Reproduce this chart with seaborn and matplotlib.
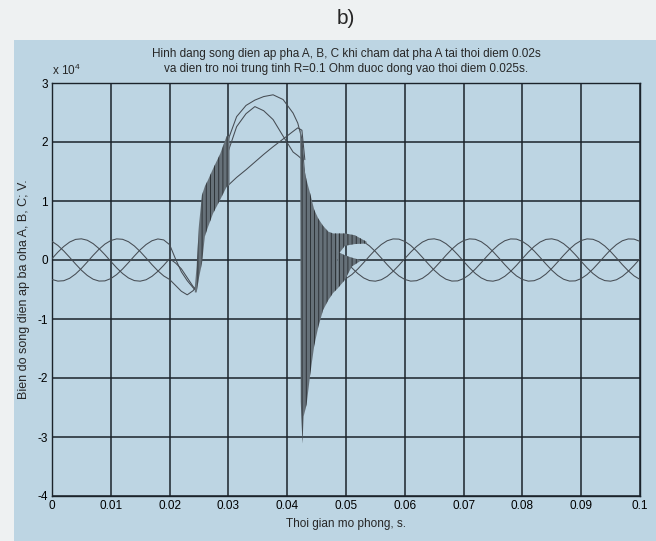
import matplotlib
matplotlib.use("Agg")
import matplotlib.pyplot as plt
import seaborn as sns
from matplotlib.patches import Rectangle

# -----------------------------------------------------------
# DATA  (voltage, units of 10^4 V)
# -----------------------------------------------------------
# before the fault + first few ms after it
t_pre = [0.000, 0.001, 0.002, 0.003, 0.004, 0.005, 0.006, 0.007, 0.008, 0.009,
         0.010, 0.011, 0.012, 0.013, 0.014, 0.015, 0.016, 0.017, 0.018, 0.019,
         0.020, 0.021, 0.022, 0.023, 0.024, 0.0245]
a_pre = [0.023, 0.133, 0.229, 0.304, 0.349, 0.359, 0.335, 0.277, 0.193, 0.090,
         -0.023, -0.133, -0.229, -0.304, -0.349, -0.359, -0.335, -0.277, -0.193, -0.090,
         0.023, -0.05, -0.15, -0.30, -0.45, -0.50]
b_pre = [-0.330, -0.358, -0.351, -0.310, -0.238, -0.143, -0.034, 0.079, 0.183, 0.270,
         0.330, 0.358, 0.351, 0.310, 0.238, 0.143, 0.034, -0.079, -0.183, -0.270,
         -0.330, -0.43, -0.53, -0.59, -0.52, -0.45]
c_pre = [0.315, 0.247, 0.153, 0.045, -0.067, -0.173, -0.262, -0.326, -0.357, -0.354,
         -0.315, -0.247, -0.153, -0.045, 0.067, 0.173, 0.262, 0.326, 0.357, 0.340,
         0.260, 0.02, -0.20, -0.35, -0.47, -0.52]

# overvoltage part between the two oscillation bursts
t_mid = [0.0300, 0.0314, 0.0330, 0.0345, 0.0360, 0.0376, 0.0393, 0.0410, 0.0418, 0.0425, 0.0430]
a_mid = [1.27, 1.40, 1.53, 1.66, 1.79, 1.92, 2.05, 2.18, 2.24, 2.20, 1.70]
b_mid = [2.05, 2.43, 2.62, 2.71, 2.77, 2.80, 2.72, 2.49, 2.32, 2.05, 1.40]
c_mid = [1.85, 2.26, 2.48, 2.60, 2.53, 2.38, 2.10, 1.83, 1.77, 1.71, 1.20]

# back to steady state
t_post = [0.050, 0.051, 0.052, 0.053, 0.054, 0.055, 0.056, 0.057, 0.058, 0.059,
          0.060, 0.061, 0.062, 0.063, 0.064, 0.065, 0.066, 0.067, 0.068, 0.069,
          0.070, 0.071, 0.072, 0.073, 0.074, 0.075, 0.076, 0.077, 0.078, 0.079,
          0.080, 0.081, 0.082, 0.083, 0.084, 0.085, 0.086, 0.087, 0.088, 0.089,
          0.090, 0.091, 0.092, 0.093, 0.094, 0.095, 0.096, 0.097, 0.098, 0.099,
          0.100]
a_post = [-0.023, -0.133, -0.229, -0.304, -0.349, -0.359, -0.335, -0.277, -0.193, -0.090,
          0.023, 0.133, 0.229, 0.304, 0.349, 0.359, 0.335, 0.277, 0.193, 0.090,
          -0.023, -0.133, -0.229, -0.304, -0.349, -0.359, -0.335, -0.277, -0.193, -0.090,
          0.023, 0.133, 0.229, 0.304, 0.349, 0.359, 0.335, 0.277, 0.193, 0.090,
          -0.023, -0.133, -0.229, -0.304, -0.349, -0.359, -0.335, -0.277, -0.193, -0.090,
          0.023]
b_post = [0.330, 0.358, 0.351, 0.310, 0.238, 0.143, 0.034, -0.079, -0.183, -0.270,
          -0.330, -0.358, -0.351, -0.310, -0.238, -0.143, -0.034, 0.079, 0.183, 0.270,
          0.330, 0.358, 0.351, 0.310, 0.238, 0.143, 0.034, -0.079, -0.183, -0.270,
          -0.330, -0.358, -0.351, -0.310, -0.238, -0.143, -0.034, 0.079, 0.183, 0.270,
          0.330, 0.358, 0.351, 0.310, 0.238, 0.143, 0.034, -0.079, -0.183, -0.270,
          -0.330]
c_post = [-0.315, -0.247, -0.153, -0.045, 0.067, 0.173, 0.262, 0.326, 0.357, 0.354,
          0.315, 0.247, 0.153, 0.045, -0.067, -0.173, -0.262, -0.326, -0.357, -0.354,
          -0.315, -0.247, -0.153, -0.045, 0.067, 0.173, 0.262, 0.326, 0.357, 0.354,
          0.315, 0.247, 0.153, 0.045, -0.067, -0.173, -0.262, -0.326, -0.357, -0.354,
          -0.315, -0.247, -0.153, -0.045, 0.067, 0.173, 0.262, 0.326, 0.357, 0.354,
          0.315]

# high-frequency oscillation bursts (envelopes)
rise_t = [0.0243, 0.0246, 0.0250, 0.0255, 0.0260, 0.0265, 0.0274, 0.0286, 0.0297, 0.0302]
rise_hi = [-0.45, -0.10, 0.60, 1.10, 1.25, 1.35, 1.55, 1.80, 2.10, 2.10]
rise_lo = [-0.55, -0.55, -0.30, -0.06, 0.40, 0.55, 0.79, 1.02, 1.24, 1.27]

fall_t = [0.0422, 0.0423, 0.0426, 0.0428, 0.0433, 0.0439, 0.0446, 0.0453, 0.0461, 0.0470, 0.0478, 0.0486]
fall_hi = [2.20, 2.20, 1.90, 1.60, 1.35, 1.13, 0.85, 0.70, 0.58, 0.48, 0.45, 0.45]
fall_lo = [2.10, -2.40, -3.11, -2.65, -2.45, -1.95, -1.45, -1.13, -0.85, -0.68, -0.56, -0.48]

tail_up_t = [0.0486, 0.0498, 0.0515, 0.0535]
tail_up_hi = [0.45, 0.45, 0.42, 0.31]
tail_up_lo = [0.08, 0.24, 0.27, 0.28]

tail_dn_t = [0.0486, 0.0498, 0.0510, 0.0524]
tail_dn_hi = [0.14, 0.08, 0.04, 0.00]
tail_dn_lo = [-0.48, -0.34, -0.11, -0.02]

x_ticks = [0, 0.01, 0.02, 0.03, 0.04, 0.05, 0.06, 0.07, 0.08, 0.09, 0.1]
x_labels = ["0", "0.01", "0.02", "0.03", "0.04", "0.05", "0.06", "0.07", "0.08", "0.09", "0.1"]
y_ticks = [-4, -3, -2, -1, 0, 1, 2, 3]

# -----------------------------------------------------------
# STYLE
# -----------------------------------------------------------
sns.set_style("white")
plt.rcParams["font.family"] = ["Liberation Sans", "DejaVu Sans"]
plt.rcParams["mathtext.fontset"] = "custom"
plt.rcParams["mathtext.rm"] = "Liberation Sans"
plt.rcParams["axes.unicode_minus"] = False
plt.rcParams["hatch.linewidth"] = 0.6

bg = "#bdd5e3"
ink = "#1b232b"
wave = "#464c53"

fig = plt.figure(figsize=(6.56, 5.41), dpi=100, facecolor="#eef1f2")
fig.add_artist(Rectangle((0.022, 0), 0.978, (541 - 40) / 541, transform=fig.transFigure,
                         facecolor=bg, edgecolor="none", zorder=-10))
ax = fig.add_axes([52 / 656, 45 / 541, 588 / 656, 413 / 541])
ax.set_facecolor(bg)

# -----------------------------------------------------------
# CURVES
# -----------------------------------------------------------
for t, v in [(t_pre, a_pre), (t_pre, b_pre), (t_pre, c_pre),
             (t_mid, a_mid), (t_mid, b_mid), (t_mid, c_mid),
             (t_post, a_post), (t_post, b_post), (t_post, c_post)]:
    sns.lineplot(x=t, y=v, ax=ax, color=wave, lw=0.75, sort=False, estimator=None, zorder=3)

for t, lo, hi in [(rise_t, rise_lo, rise_hi), (fall_t, fall_lo, fall_hi),
                  (tail_up_t, tail_up_lo, tail_up_hi), (tail_dn_t, tail_dn_lo, tail_dn_hi)]:
    ax.fill_between(t, lo, hi, facecolor="#667179", edgecolor="#25292d", hatch="||||",
                    lw=0, zorder=4)

# -----------------------------------------------------------
# AXES
# -----------------------------------------------------------
ax.set_xlim(0, 0.1)
ax.set_ylim(-4, 3)
ax.set_xticks(x_ticks)
ax.set_xticklabels(x_labels)
ax.set_yticks(y_ticks)
ax.grid(True, color=ink, lw=1.1, ls="-", zorder=1)
ax.set_axisbelow(True)
ax.tick_params(direction="in", length=4, labelsize=8.5, colors="black", pad=3)
for s in ax.spines.values():
    s.set_color(ink)
    s.set_linewidth(1.0)

ax.set_xlabel("Thoi gian mo phong, s.", fontsize=8.5, labelpad=4)
ax.set_ylabel("Bien do song dien ap ba oha A, B, C; V.", fontsize=9, labelpad=5)
ax.set_title("Hinh dang song dien ap pha A, B, C khi cham dat pha A tai thoi diem 0.02s\n"
             "va dien tro noi trung tinh R=0.1 Ohm duoc dong vao thoi diem 0.025s.",
             fontsize=8.5, pad=8, linespacing=1.35)
ax.text(0.0, 1.012, "x 10$^4$", transform=ax.transAxes, fontsize=8.5, ha="left", va="bottom")
fig.text(346 / 656, 1 - 18 / 541, "b)", fontsize=15, ha="center", va="center")

fig.savefig("out.png", dpi=100, facecolor=fig.get_facecolor())
